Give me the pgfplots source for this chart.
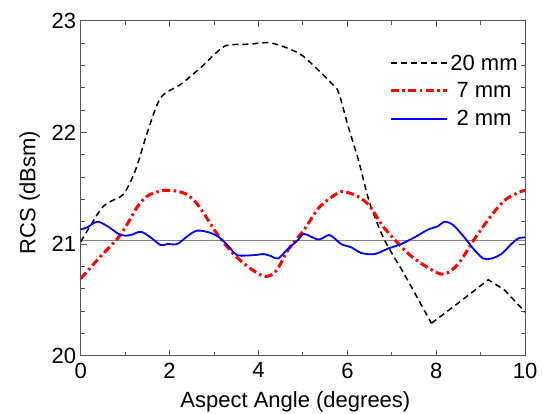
\documentclass[border=0pt]{standalone}
\usepackage{pgfplots}
\pgfplotsset{compat=1.18}
\usepackage{fontspec}
\setmainfont{Liberation Sans}
\definecolor{framegray}{RGB}{85,85,85}

\begin{document}
\begin{tikzpicture}
\begin{axis}[
    scale only axis,
    width=444.5pt,
    height=335pt,
    xmin=0, xmax=10,
    ymin=20, ymax=23,
    xtick={0,2,...,10},
    ytick={20,21,22,23},
    minor x tick num=1,
    minor y tick num=4,
    tick align=inside,
    major tick length=6pt,
    minor tick length=4pt,
    axis line style={framegray, line width=1.2pt},
    every tick/.style={framegray, line width=1pt},
    font=\fontsize{22}{26}\selectfont,
    /pgf/number format/assume math mode=true,
    xticklabel style={yshift=-3.5pt},
    yticklabel style={xshift=-1pt},
    xlabel={Aspect Angle (degrees)},
    ylabel={RCS (dBsm)},
    xlabel style={at={(axis description cs:0.483,-0.156)}, anchor=base},
    ylabel style={at={(axis description cs:-0.102,0.487)}, anchor=base},
    legend style={
        at={(axis description cs:0.988,0.905)},
        anchor=north east,
        draw=none, fill=none,
        inner sep=0pt,
        row sep=7pt,
        nodes={inner sep=2pt},
        cells={anchor=center},
        font=\fontsize{22}{26}\selectfont
    },
    legend image code/.code={\draw[#1] (0pt,0pt) -- (56pt,0pt);},
]

% reference level
\addplot[gray, line width=1pt, forget plot] coordinates {(0,21.03) (10,21.03)};

% 20 mm (smooth part up to the minimum)
\addplot[black, line width=1.5pt, smooth, dash pattern=on 6pt off 4pt] coordinates {
(0,21.02) (0.45,21.31) (0.67,21.38) (0.97,21.45) (1.24,21.67) (1.5,22.0)
(1.8,22.31) (2.25,22.43) (2.7,22.58) (3.07,22.72) (3.3,22.78) (3.8,22.79)
(4.29,22.80) (4.9,22.71) (5.26,22.59) (5.64,22.44) (5.8,22.36) (6.02,22.05)
(6.25,21.75) (6.5,21.37) (6.83,21.04) (7.28,20.73) (7.89,20.29)
};
% 20 mm (remainder)
\addplot[black, line width=1.5pt, dash pattern=on 6pt off 4pt, forget plot] coordinates {
(7.89,20.29) (8.49,20.47) (9.17,20.68) (9.53,20.59) (10,20.39)
};

% 7 mm
\addplot[red, line width=3pt, smooth, dash pattern=on 8pt off 3.5pt on 2.5pt off 3.5pt] coordinates {
(0,20.69) (0.38,20.86) (0.83,21.05) (1.05,21.18) (1.27,21.33) (1.5,21.43)
(1.87,21.48) (2.3,21.46) (2.62,21.36) (3.07,21.09) (3.44,20.91) (3.82,20.78)
(4.15,20.71) (4.4,20.76) (4.67,20.95) (5.03,21.13) (5.37,21.33) (5.8,21.46)
(6.02,21.46) (6.31,21.41) (6.54,21.32) (6.76,21.18) (7.06,21.04) (7.44,20.89)
(7.89,20.77) (8.18,20.73) (8.49,20.82) (8.85,21.04) (9.17,21.22) (9.39,21.33)
(9.6,21.41) (9.9,21.47) (10,21.48)
};

% 2 mm
\addplot[blue, line width=1.8pt, smooth] coordinates {
(0,21.13) (0.15,21.15) (0.37,21.2) (0.6,21.16) (0.9,21.08) (1.12,21.08)
(1.35,21.11) (1.57,21.06) (1.8,20.99) (1.95,21.0) (2.17,21.0) (2.4,21.07)
(2.62,21.12) (2.92,21.1) (3.15,21.05) (3.37,20.96) (3.52,20.9) (3.89,20.9)
(4.12,20.91) (4.29,20.89) (4.44,20.87) (4.67,20.96) (4.9,21.04) (5.03,21.09)
(5.35,21.04) (5.6,21.08) (5.86,21.0) (6.09,20.97) (6.31,20.92) (6.61,20.91)
(6.92,20.96) (7.21,21.0) (7.51,21.06) (7.82,21.13) (8.04,21.16) (8.18,21.2)
(8.38,21.17) (8.63,21.06) (8.85,20.95) (9.06,20.87) (9.24,20.87) (9.46,20.91)
(9.69,21.0) (9.84,21.05) (10,21.06)
};

\legend{20 mm, 7 mm, 2 mm}
\end{axis}
\pgfresetboundingbox
\path (current axis.south west) ++(-80.7pt,-58.3pt) rectangle ++(542pt,414pt);
\end{tikzpicture}
\end{document}
